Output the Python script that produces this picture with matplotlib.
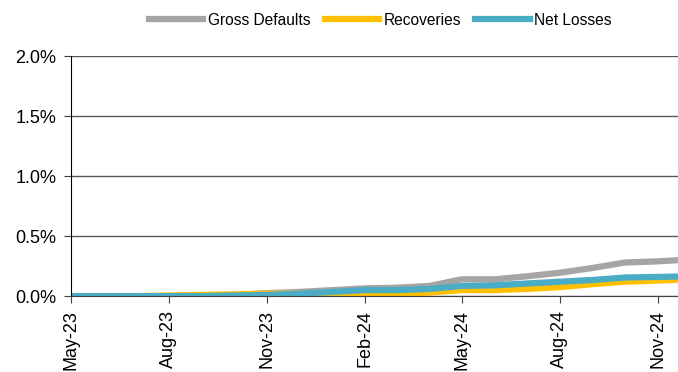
import numpy as np
import pandas as pd
import matplotlib
matplotlib.use("Agg")
import matplotlib.pyplot as plt
import matplotlib.dates as mdates
from matplotlib.ticker import FuncFormatter

plt.rcParams['font.family'] = ['Liberation Sans', 'DejaVu Sans']

months = pd.date_range("2023-05-01", "2024-12-01", freq="MS")

# cumulative rates, % of original balance
gross_defaults = [0.0, 0.0, 0.0, 0.0, 0.005, 0.01, 0.025, 0.035, 0.05, 0.065,
                  0.07, 0.085, 0.14, 0.14, 0.165, 0.195, 0.235, 0.28, 0.29, 0.305]
recoveries = [0.0, 0.0, 0.0, 0.005, 0.01, 0.015, 0.02, 0.02, 0.015, 0.015,
              0.02, 0.03, 0.05, 0.05, 0.06, 0.075, 0.1, 0.12, 0.13, 0.14]
net_losses = [0.0, 0.0, 0.0, 0.0, 0.0, 0.005, 0.01, 0.02, 0.035, 0.05,
              0.05, 0.06, 0.085, 0.09, 0.105, 0.12, 0.135, 0.155, 0.16, 0.165]

fig = plt.figure(figsize=(6.78, 3.72), dpi=100)
ax = fig.add_axes([0.104, 0.204, 0.914, 0.645])

ax.plot(months, gross_defaults, color="#a5a5a5", lw=4.5, label="Gross Defaults")
ax.plot(months, recoveries, color="#ffc000", lw=4.5, label="Recoveries")
ax.plot(months, net_losses, color="#4bacc6", lw=4.5, label="Net Losses")

ax.set_ylim(0, 2.0)
ax.set_yticks(np.arange(0, 2.01, 0.5))
ax.yaxis.set_major_formatter(FuncFormatter(lambda v, _: f"{v:.1f}%"))
ax.set_xlim(months[0], months[-1])
ax.xaxis.set_major_locator(mdates.MonthLocator(bymonth=[2, 5, 8, 11]))
ax.xaxis.set_major_formatter(mdates.DateFormatter("%b-%y"))
plt.setp(ax.get_xticklabels(), rotation=90)

ax.grid(axis="y", color="#595959", lw=1)
ax.set_axisbelow(True)
for s in ["top", "right"]:
    ax.spines[s].set_visible(False)
ax.spines["left"].set_color("black")
ax.spines["bottom"].set_color("#404040")
ax.tick_params(labelsize=13, length=5, color="#404040", pad=5)

ax.legend(loc="center", bbox_to_anchor=(0.5, 1.15), ncol=3, frameon=False,
          fontsize=11.2, handlelength=3.5, handletextpad=0.3, columnspacing=0.9)

fig.savefig("out.png", dpi=100)
